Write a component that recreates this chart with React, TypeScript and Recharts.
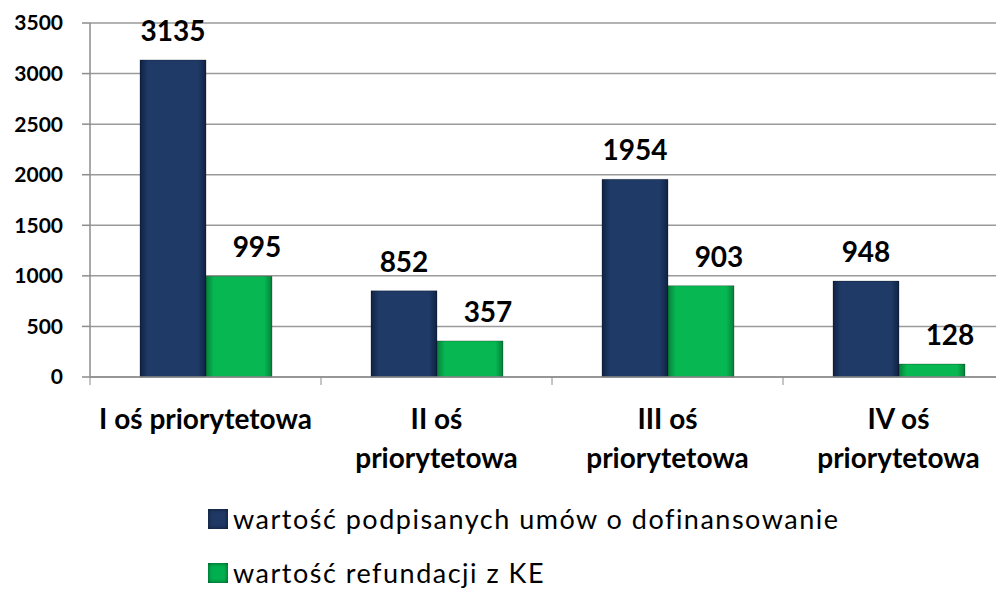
import { BarChart, Bar, XAxis, YAxis, CartesianGrid, Legend, LabelList } from 'recharts'

const categories = ['I oś priorytetowa', 'II oś priorytetowa', 'III oś priorytetowa', 'IV oś priorytetowa']
const signedContracts = [3135, 852, 1954, 948]
const ecRefunds = [995, 357, 903, 128]
const yTicks = [0, 500, 1000, 1500, 2000, 2500, 3000, 3500]

const SERIES = [
  { key: 'signed', name: 'wartość podpisanych umów o dofinansowanie', color: '#1f3864', grad: 'gradNavy' },
  { key: 'refund', name: 'wartość refundacji z KE', color: '#00b050', grad: 'gradGreen' }
]

const FONT = 'Lato, "Open Sans", sans-serif'

const data = categories.map((name, i) => ({
  name,
  signed: signedContracts[i],
  refund: ecRefunds[i]
}))

// category label, wrapped after "oś" when it is long, plus boundary tick marks
function CategoryTick(props: any) {
  const { x, y, payload, index } = props
  const label: string = payload.value
  const half = payload.offset || 0
  const cut = label.indexOf('oś') + 2
  const lines = label.length > 17 ? [label.slice(0, cut), label.slice(cut + 1)] : [label]
  return (
    <g>
      <line x1={x - half} x2={x - half} y1={y - 8} y2={y} stroke="#8c8c8c" strokeWidth={1} />
      {index === categories.length - 1 && (
        <line x1={x + half} x2={x + half} y1={y - 8} y2={y} stroke="#8c8c8c" strokeWidth={1} />
      )}
      {lines.map((l, i) => (
        <text
          key={i}
          x={x}
          y={y + 44 + i * 39}
          textAnchor="middle"
          fontFamily={FONT}
          fontWeight={700}
          fontSize={28}
          fill="#000"
        >
          {l}
        </text>
      ))}
    </g>
  )
}

function makeValueLabel(dx: number) {
  return (props: any) => {
    const { x, y, width, value } = props
    return (
      <text
        x={x + width / 2 + dx}
        y={y - 19}
        textAnchor="middle"
        fontFamily={FONT}
        fontWeight={700}
        fontSize={28}
        fill="#000"
      >
        {value}
      </text>
    )
  }
}

function LegendBox() {
  return (
    <div style={{ fontFamily: FONT, fontSize: 27, color: '#000', lineHeight: '32px' }}>
      {SERIES.map((s) => (
        <div key={s.key} style={{ display: 'flex', alignItems: 'center', height: 54 }}>
          <span
            style={{
              display: 'inline-block',
              width: 20,
              height: 20,
              marginRight: 5,
              background: s.color,
              boxShadow: 'inset 0 0 4px rgba(0,0,0,0.6)'
            }}
          />
          <span style={{ letterSpacing: 1.5 }}>{s.name}</span>
        </div>
      ))}
    </div>
  )
}

export default function App() {
  return (
    <div style={{ position: 'absolute', left: 0, top: 0, width: 996, height: 592, overflow: 'hidden', background: '#fff' }}>
      <BarChart
        width={1020}
        height={592}
        data={data}
        margin={{ top: 23, right: 6, left: 0, bottom: 105 }}
        barCategoryGap={50}
        barGap={0}
      >
        <defs>
          <linearGradient id="gradNavy" x1="0" y1="0" x2="1" y2="0">
            <stop offset="0%" stopColor="#0f2244" />
            <stop offset="12%" stopColor="#1f3a66" />
            <stop offset="88%" stopColor="#1f3a66" />
            <stop offset="100%" stopColor="#0f2244" />
          </linearGradient>
          <linearGradient id="gradGreen" x1="0" y1="0" x2="1" y2="0">
            <stop offset="0%" stopColor="#06803a" />
            <stop offset="12%" stopColor="#07b852" />
            <stop offset="88%" stopColor="#07b852" />
            <stop offset="100%" stopColor="#06803a" />
          </linearGradient>
        </defs>
        <CartesianGrid vertical={false} stroke="#9a9a9a" strokeWidth={1.5} />
        <XAxis
          dataKey="name"
          height={110}
          axisLine={{ stroke: '#8c8c8c', strokeWidth: 1.5 }}
          tickLine={false}
          tick={<CategoryTick />}
          interval={0}
        />
        <YAxis
          width={90}
          domain={[0, 3500]}
          ticks={yTicks}
          interval={0}
          axisLine={{ stroke: '#8c8c8c', strokeWidth: 1.5 }}
          tickLine={{ stroke: '#8c8c8c', strokeWidth: 1.5 }}
          tickSize={8}
          tickMargin={19}
          tick={{ fontFamily: FONT, fontWeight: 700, fontSize: 21, fill: '#000' }}
        />
        <Legend
          layout="vertical"
          verticalAlign="middle"
          align="center"
          content={<LegendBox />}
          wrapperStyle={{ left: 208, top: 492, width: 780 }}
        />
        {SERIES.map((s, i) => (
          <Bar
            key={s.key}
            dataKey={s.key}
            name={s.name}
            fill={`url(#${s.grad})`}
            stroke="rgba(0,0,0,0.25)"
            isAnimationActive={false}
          >
            <LabelList dataKey={s.key} content={makeValueLabel(i === 0 ? 0 : 18)} />
          </Bar>
        ))}
      </BarChart>
    </div>
  )
}
